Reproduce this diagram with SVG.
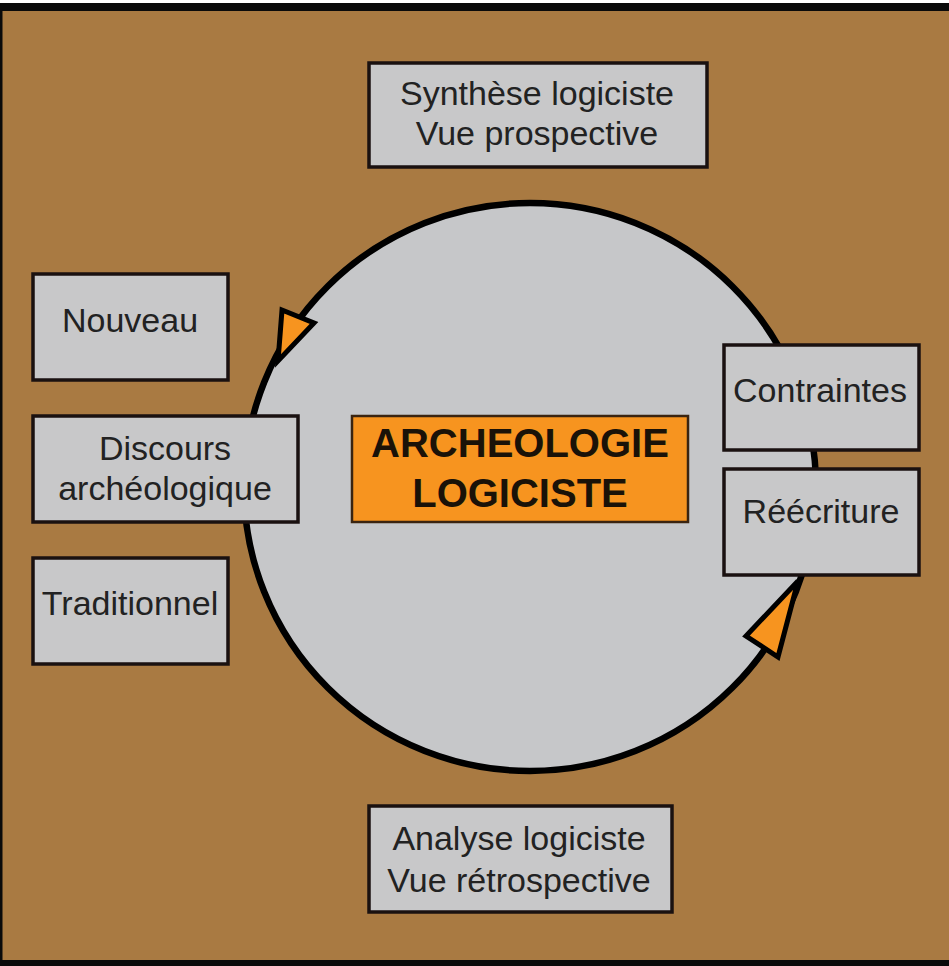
<svg xmlns="http://www.w3.org/2000/svg" width="949" height="966" viewBox="0 0 949 966">
  <style>
    .box { fill: #c8c8c9; stroke: #1a1110; stroke-width: 3.5; }
    .core { fill: #f7941f; stroke: #3a2410; stroke-width: 2.5; }
    .lbl { font-family: "Liberation Sans", Arial, sans-serif; font-size: 34px; fill: #222222; text-anchor: middle; }
    .big { font-family: "Liberation Sans", Arial, sans-serif; font-size: 40px; font-weight: bold; fill: #1a1208; text-anchor: middle; }
    .cycle { fill: #c6c7c9; stroke: #000000; stroke-width: 6.5; }
    .head { fill: #f7941f; stroke: #000000; stroke-width: 5; stroke-linejoin: miter; }
  </style>
  <rect x="0" y="0" width="949" height="966" fill="#ffffff"/>
  <rect x="0" y="3" width="949" height="963" fill="#a97a42"/>
  <rect x="0" y="3" width="949" height="8" fill="#0a0a0a"/>
  <rect x="0" y="3" width="2.5" height="963" fill="#0a0a0a"/>
  <rect x="0" y="960" width="949" height="6" fill="#0a0a0a"/>

  <g id="connectors">
    <ellipse class="cycle" cx="530" cy="487" rx="286" ry="284"/>
    <polygon class="head" points="282,310 314,323 278,361"/>
    <polygon class="head" points="798,581 778,657 746,636"/>
  </g>

  <g id="node-synthese">
    <rect class="box" x="369" y="63" width="338" height="104"/>
    <text class="lbl" x="537" y="105">Synthèse logiciste</text>
    <text class="lbl" x="537" y="145">Vue prospective</text>
  </g>

  <g id="node-nouveau">
    <rect class="box" x="33" y="274" width="195" height="106"/>
    <text class="lbl" x="130" y="332">Nouveau</text>
  </g>

  <g id="node-discours">
    <rect class="box" x="33" y="416" width="265" height="106"/>
    <text class="lbl" x="165" y="460">Discours</text>
    <text class="lbl" x="165" y="500">archéologique</text>
  </g>

  <g id="node-traditionnel">
    <rect class="box" x="33" y="558" width="195" height="106"/>
    <text class="lbl" x="130" y="615">Traditionnel</text>
  </g>

  <g id="node-contraintes">
    <rect class="box" x="724" y="345" width="195" height="105"/>
    <text class="lbl" x="820" y="402">Contraintes</text>
  </g>

  <g id="node-reecriture">
    <rect class="box" x="724" y="469" width="195" height="106"/>
    <text class="lbl" x="821" y="523">Réécriture</text>
  </g>

  <g id="node-archeologie">
    <rect class="core" x="352" y="416" width="336" height="106"/>
    <text class="big" x="520" y="457">ARCHEOLOGIE</text>
    <text class="big" x="520" y="507">LOGICISTE</text>
  </g>

  <g id="node-analyse">
    <rect class="box" x="369" y="806" width="303" height="106"/>
    <text class="lbl" x="519" y="850">Analyse logiciste</text>
    <text class="lbl" x="519" y="892">Vue rétrospective</text>
  </g>
</svg>
